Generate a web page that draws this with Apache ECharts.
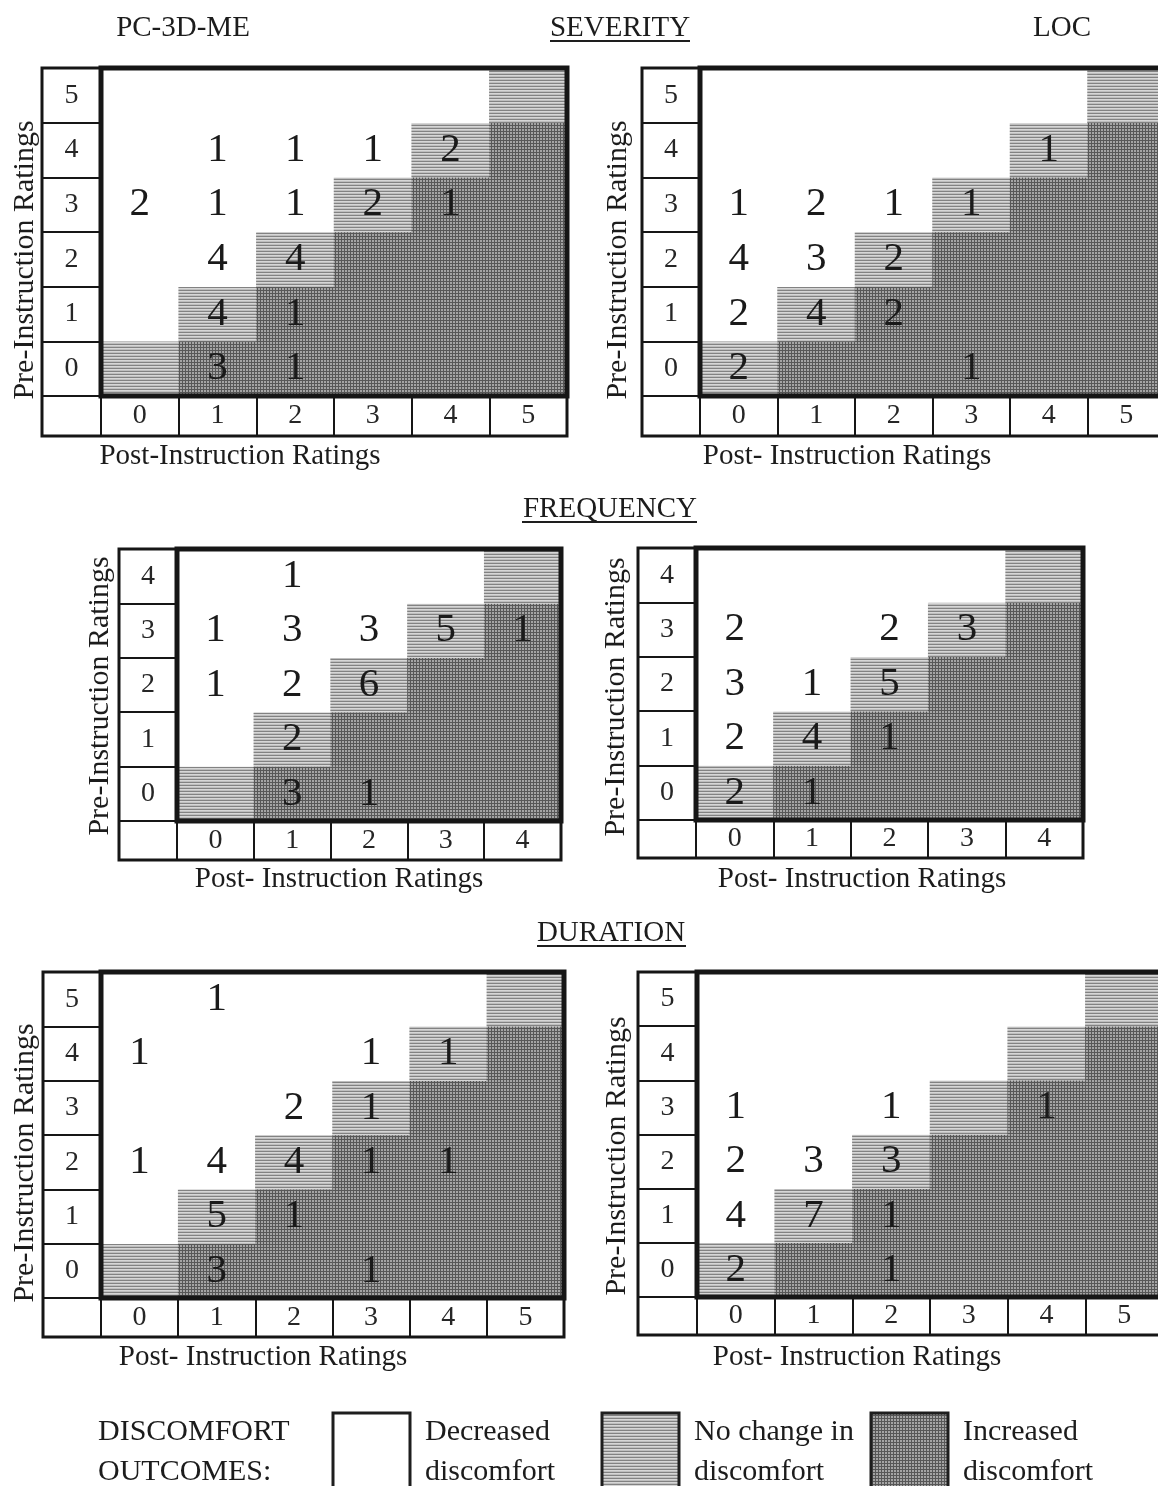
<!DOCTYPE html>
<html>
<head>
<meta charset="utf-8">
<script src="https://cdn.jsdelivr.net/npm/echarts@6/dist/echarts.min.js"></script>
<style>
  html, body { margin: 0; padding: 0; background: #fff; }
  #main { width: 1158px; height: 1486px; }
</style>
</head>
<body>
<div id="main"></div>
<script>
// rating scales (post on x, pre on y)
const ratings6 = ['0', '1', '2', '3', '4', '5'];
const ratings5 = ['0', '1', '2', '3', '4'];

// counts as [post, pre, count]
const severityPC = [[1,4,1],[2,4,1],[3,4,1],[4,4,2],[0,3,2],[1,3,1],[2,3,1],[3,3,2],[4,3,1],
                    [1,2,4],[2,2,4],[1,1,4],[2,1,1],[1,0,3],[2,0,1]];
const severityLOC = [[4,4,1],[0,3,1],[1,3,2],[2,3,1],[3,3,1],[0,2,4],[1,2,3],[2,2,2],
                     [0,1,2],[1,1,4],[2,1,2],[0,0,2],[3,0,1]];
const frequencyPC = [[1,4,1],[0,3,1],[1,3,3],[2,3,3],[3,3,5],[4,3,1],[0,2,1],[1,2,2],[2,2,6],
                     [1,1,2],[1,0,3],[2,0,1]];
const frequencyLOC = [[0,3,2],[2,3,2],[3,3,3],[0,2,3],[1,2,1],[2,2,5],[0,1,2],[1,1,4],[2,1,1],
                      [0,0,2],[1,0,1]];
const durationPC = [[1,5,1],[0,4,1],[3,4,1],[4,4,1],[2,3,2],[3,3,1],[0,2,1],[1,2,4],[2,2,4],
                    [3,2,1],[4,2,1],[1,1,5],[2,1,1],[1,0,3],[3,0,1]];
const durationLOC = [[0,3,1],[2,3,1],[4,3,1],[0,2,2],[1,2,3],[2,2,3],[0,1,4],[1,1,7],[2,1,1],
                     [0,0,2],[2,0,1]];

const SERIF = "'Liberation Serif', 'Times New Roman', serif";
const INK = '#161616';

// scanned screen textures
function stripePattern() {
    const c = document.createElement('canvas');
    c.width = 3; c.height = 3;
    const g = c.getContext('2d');
    g.fillStyle = '#d6d6d6'; g.fillRect(0, 0, 3, 3);
    g.fillStyle = '#bebebe'; g.fillRect(0, 1, 3, 1);
    g.fillStyle = '#828282'; g.fillRect(0, 2, 3, 1);
    return { image: c, repeat: 'repeat' };
}
function meshPattern() {
    const c = document.createElement('canvas');
    c.width = 3; c.height = 3;
    const g = c.getContext('2d');
    g.fillStyle = '#a4a4a4'; g.fillRect(0, 0, 3, 3);
    g.fillStyle = '#575757'; g.fillRect(0, 2, 3, 1); g.fillRect(2, 0, 1, 3);
    return { image: c, repeat: 'repeat' };
}
const noChange = stripePattern();
const increased = meshPattern();

// panel frames (pixels)
const panels = [
    { data: severityPC,   cats: ratings6, outerLeft: 42,  left: 101, width: 466, top: 68,  height: 328, rowH: 40 },
    { data: severityLOC,  cats: ratings6, outerLeft: 642, left: 700, width: 465, top: 68,  height: 328, rowH: 40 },
    { data: frequencyPC,  cats: ratings5, outerLeft: 119, left: 177, width: 384, top: 549, height: 272, rowH: 39 },
    { data: frequencyLOC, cats: ratings5, outerLeft: 638, left: 696, width: 387, top: 548, height: 272, rowH: 38 },
    { data: durationPC,   cats: ratings6, outerLeft: 43,  left: 101, width: 463, top: 972, height: 326, rowH: 39 },
    { data: durationLOC,  cats: ratings6, outerLeft: 638, left: 697, width: 466, top: 972, height: 325, rowH: 38 }
];

function buildCells(counts, cats) {
    const cells = [];
    for (let pre = 0; pre < cats.length; pre++) {
        for (let post = 0; post < cats.length; post++) {
            const hit = counts.find(c => c[0] === post && c[1] === pre);
            let color = '#ffffff';
            if (post === pre) color = noChange;
            else if (post > pre) color = increased;
            cells.push({ value: [post, pre, hit ? hit[2] : 0], itemStyle: { color: color } });
        }
    }
    return cells;
}

const grids = [], xAxes = [], yAxes = [], series = [];
panels.forEach(function (p, i) {
    grids.push({
        left: p.outerLeft, top: p.top,
        width: p.left + p.width - p.outerLeft, height: p.height + p.rowH,
        show: true, borderColor: INK, borderWidth: 3, backgroundColor: 'transparent',
        z: 10, containLabel: false, outerBoundsMode: 'none'
    });
    grids.push({
        left: p.left, top: p.top, width: p.width, height: p.height,
        show: true, borderColor: INK, borderWidth: 5, backgroundColor: 'transparent',
        z: 11, containLabel: false, outerBoundsMode: 'none'
    });
    xAxes.push({
        type: 'category', gridIndex: 2 * i + 1, data: p.cats, position: 'bottom',
        axisLine: { show: false },
        axisTick: { show: true, interval: 0, length: p.rowH, lineStyle: { color: INK, width: 2 } },
        axisLabel: { interval: 0, margin: p.rowH / 2, verticalAlign: 'middle',
                     fontFamily: SERIF, fontSize: 28, color: '#262626' },
        splitLine: { show: false }
    });
    yAxes.push({
        type: 'category', gridIndex: 2 * i + 1, data: p.cats,
        axisLine: { show: false },
        axisTick: { show: true, interval: 0, length: p.left - p.outerLeft, lineStyle: { color: INK, width: 2 } },
        axisLabel: { interval: 0, margin: (p.left - p.outerLeft) / 2, align: 'center',
                     fontFamily: SERIF, fontSize: 28, color: '#262626' },
        splitLine: { show: false }
    });
    series.push({
        type: 'heatmap', xAxisIndex: i, yAxisIndex: i,
        data: buildCells(p.data, p.cats),
        itemStyle: { borderWidth: 0 },
        label: {
            show: true,
            formatter: function (d) { return d.value[2] > 0 ? String(d.value[2]) : ''; },
            fontFamily: SERIF, fontSize: 41, color: '#1a1a1a'
        },
        emphasis: { disabled: true }
    });
});

function txt(x, y, s, opts) {
    return Object.assign({
        type: 'text', x: x, y: y, z: 20,
        style: { text: s, fill: '#1c1c1c', font: '29px ' + SERIF, align: 'center', verticalAlign: 'middle' }
    }, opts || {});
}
function rot(x, y, s) {
    const t = txt(x, y, s, { rotation: Math.PI / 2 });
    t.style.font = '30px ' + SERIF;
    return t;
}
function uline(x1, x2, y) {
    return { type: 'line', z: 20, shape: { x1: x1, y1: y, x2: x2, y2: y }, style: { stroke: '#1e1e1e', lineWidth: 2 } };
}
function left(x, y, s) {
    const t = txt(x, y, s);
    t.style.align = 'left';
    t.style.font = '30px ' + SERIF;
    return t;
}
function box(x, fill) {
    return { type: 'rect', z: 20, shape: { x: x, y: 1413, width: 77, height: 90 },
             style: { fill: fill, stroke: '#1e1e1e', lineWidth: 3 } };
}

const graphics = [
    txt(183, 28, 'PC-3D-ME'),
    txt(620, 28, 'SEVERITY'), uline(550, 690, 41),
    txt(1062, 28, 'LOC'),
    txt(610, 509, 'FREQUENCY'), uline(522, 697, 522),
    txt(611, 933, 'DURATION'), uline(537, 686, 946),
    txt(240, 456, 'Post-Instruction Ratings'),
    txt(847, 456, 'Post- Instruction Ratings'),
    txt(339, 879, 'Post- Instruction Ratings'),
    txt(862, 879, 'Post- Instruction Ratings'),
    txt(263, 1357, 'Post- Instruction Ratings'),
    txt(857, 1357, 'Post- Instruction Ratings'),
    rot(25, 260, 'Pre-Instruction Ratings'),
    rot(618, 260, 'Pre-Instruction Ratings'),
    rot(100, 696, 'Pre-Instruction Ratings'),
    rot(616, 697, 'Pre-Instruction Ratings'),
    rot(25, 1163, 'Pre-Instruction Ratings'),
    rot(617, 1156, 'Pre-Instruction Ratings'),
    left(98, 1432, 'DISCOMFORT'),
    left(98, 1472, 'OUTCOMES:'),
    box(333, '#ffffff'), box(602, noChange), box(871, increased),
    left(425, 1432, 'Decreased'), left(425, 1472, 'discomfort'),
    left(694, 1432, 'No change in'), left(694, 1472, 'discomfort'),
    left(963, 1432, 'Increased'), left(963, 1472, 'discomfort')
];

const chart = echarts.init(document.getElementById('main'), null, { renderer: 'canvas' });
chart.setOption({
    backgroundColor: '#ffffff',
    animation: false,
    grid: grids,
    xAxis: xAxes,
    yAxis: yAxes,
    series: series,
    graphic: { elements: graphics }
});
</script>
</body>
</html>
